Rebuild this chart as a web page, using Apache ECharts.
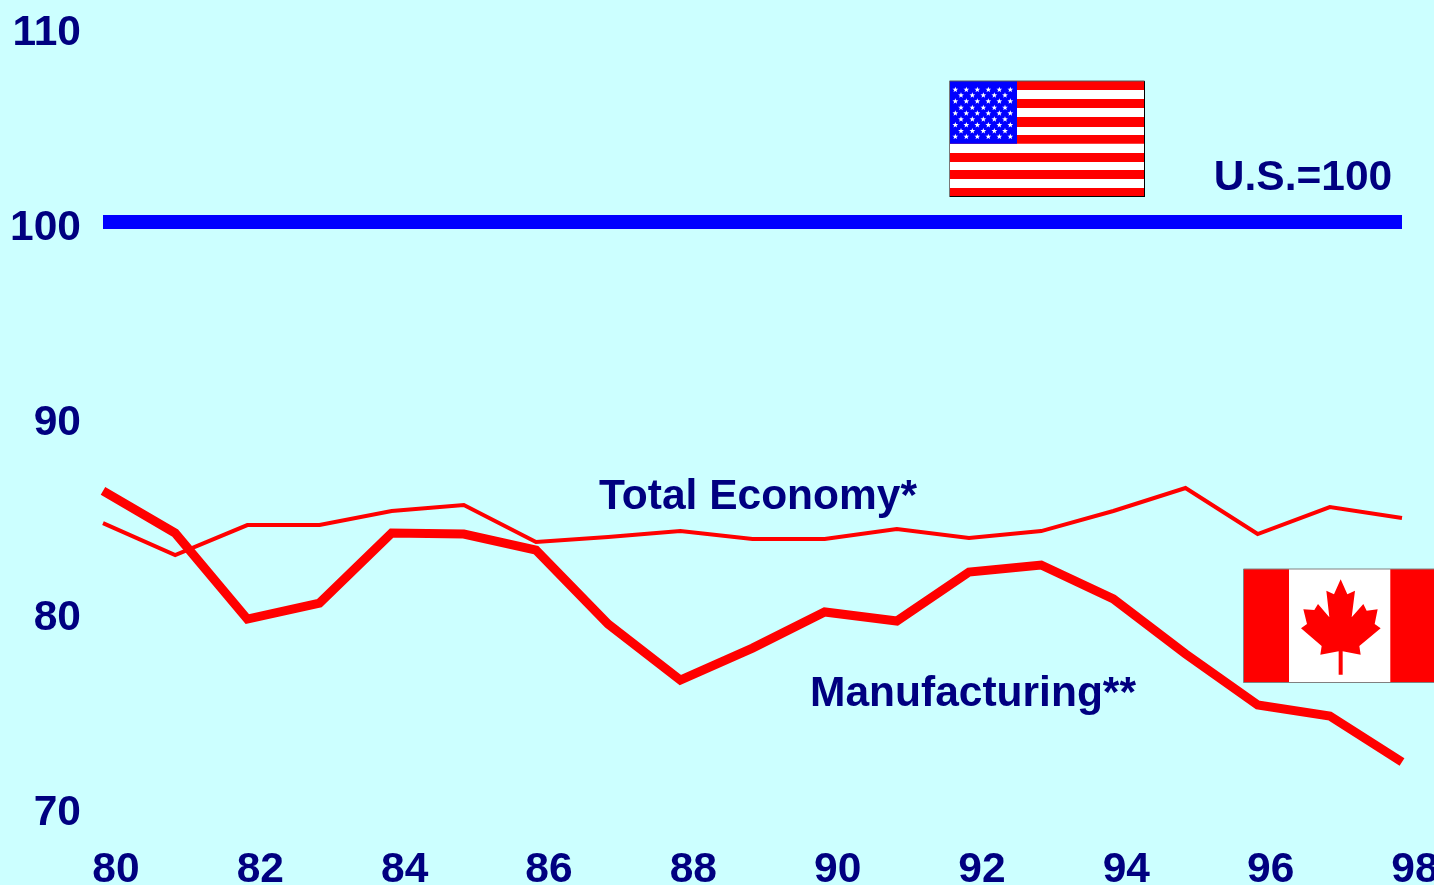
<!DOCTYPE html>
<html>
<head>
<meta charset="utf-8">
<style>html,body{margin:0;padding:0;background:#CCFFFF;overflow:hidden}#c{width:1434px;height:885px}</style>
<script src="https://cdn.jsdelivr.net/npm/echarts@6/dist/echarts.min.js"></script>
</head>
<body>
<div id="c"></div>
<script>
const years = ['80','81','82','83','84','85','86','87','88','89','90','91','92','93','94','95','96','97','98'];
const usBaseline = [100,100,100,100,100,100,100,100,100,100,100,100,100,100,100,100,100,100,100];
const totalEconomy = [84.56,82.92,84.46,84.46,85.18,85.49,83.59,83.85,84.15,83.74,83.74,84.26,83.79,84.15,85.18,86.36,84.0,85.38,84.82];
const manufacturing = [86.21,84.05,79.64,80.46,84.05,84.0,83.18,79.38,76.51,78.15,80.0,79.54,82.05,82.41,80.67,77.85,75.23,74.67,72.31];

const NAVY = '#000080', RED = '#FF0000', BLUE = '#0000FF', WHITE = '#FFFFFF';

// ---- flag decoration ----
function rect(x, y, w, h, fill) {
  return {type:'rect', shape:{x, y, width:w, height:h}, style:{fill}, silent:true, z:10};
}
function line(x1, y1, x2, y2, stroke) {
  return {type:'line', shape:{x1, y1, x2, y2}, style:{stroke, lineWidth:1}, silent:true, z:12};
}
function star(cx, cy, r) {
  const pts = [];
  for (let i = 0; i < 10; i++) {
    const a = -Math.PI/2 + i*Math.PI/5, q = i%2 ? r*0.42 : r;
    pts.push([cx + q*Math.cos(a), cy + q*Math.sin(a)]);
  }
  return {type:'polygon', shape:{points:pts}, style:{fill:WHITE}, silent:true, z:11};
}
function usFlag() {
  const L = 949.5, R = 1144.5, B = [81,90,99,108,117,127,135,143.7,153,162,170,179,188,196.5];
  const out = [rect(L, 81, R-L, 115.5, WHITE)];
  for (let i = 0; i < 13; i += 2) out.push(rect(L, B[i], R-L, B[i+1]-B[i], RED));
  out.push(rect(L, 81, 1017-L, 62.7, BLUE));
  const rows = [59,76,94,113,130,148,165,183,200];
  const six = [76,109,142,175,208,241], five = [93,127,160,193,225];
  rows.forEach((ry, i) => (i%2 ? five : six).forEach(cx => out.push(star(930+cx/3, 70+ry/3, 3))));
  out.push(line(R, 81, R, 197, '#000000'), line(L, 196.5, R, 196.5, '#000000'),
           line(L, 81, R, 81, '#555555'), line(L, 81, L, 197, '#777777'));
  return out;
}
function caFlag() {
  const T = 569, Bt = 682.5, L = 1243.5;
  const leaf = [[332,58],[352,103],[375,92],[365,172],[400,132],[410,152],[443,148],[434,192],[452,205],[388,258],[392,284],[338,274],[338,344],[326,344],[326,274],[271,284],[275,258],[213,205],[231,192],[220,148],[253,150],[264,132],[298,172],[289,92],[312,103]]
    .map(p => [1230+p[0]/3, 560+p[1]/3]);
  return [
    rect(L, T, 1434-L, Bt-T, RED),
    rect(1289, T, 101.3, Bt-T, WHITE),
    {type:'polygon', shape:{points:leaf}, style:{fill:RED}, silent:true, z:11},
    line(L, T, 1434, T, '#808080'), line(L, Bt, 1434, Bt, '#808080'), line(L, T, L, Bt, '#808080')
  ];
}
function note(text, cx, cy, size) {
  return {type:'text', style:{text, x:cx, y:cy, align:'center', verticalAlign:'middle', fill:NAVY,
    font:'bold '+size+'px "Liberation Sans", Arial, sans-serif'}, silent:true, z:15};
}

const chart = echarts.init(document.getElementById('c'), null, {renderer:'canvas'});
chart.setOption({
  animation:false,
  backgroundColor:'#CCFFFF',
  grid:{left:103, right:32, top:27, bottom:78, containLabel:false, outerBoundsMode:'none'},
  xAxis:{
    type:'category', data:years, boundaryGap:false,
    axisLine:{show:false}, axisTick:{show:false}, splitLine:{show:false},
    axisLabel:{interval:1, margin:42, color:NAVY, fontSize:42.5, fontWeight:'bold',
      fontFamily:'"Liberation Sans", Arial, sans-serif', padding:[0,0,0,26],
      hideOverlap:false, showMinLabel:true, showMaxLabel:true}
  },
  yAxis:{
    type:'value', min:70, max:110, interval:10,
    axisLine:{show:false}, axisTick:{show:false}, splitLine:{show:false},
    axisLabel:{margin:22, color:NAVY, fontSize:42.5, fontWeight:'bold',
      fontFamily:'"Liberation Sans", Arial, sans-serif', verticalAlign:'top', lineHeight:12}
  },
  series:[
    {name:'U.S.', type:'line', data:usBaseline, symbol:'none', lineStyle:{color:BLUE, width:14, cap:'butt'}},
    {name:'Total Economy', type:'line', data:totalEconomy, symbol:'none', lineStyle:{color:RED, width:4, cap:'butt', join:'miter'}},
    {name:'Manufacturing', type:'line', data:manufacturing, symbol:'none', lineStyle:{color:RED, width:9, cap:'butt', join:'miter'}}
  ],
  graphic:{elements:[
    ...usFlag(), ...caFlag(),
    note('U.S.=100', 1303, 178, 42.5),
    note('Total Economy*', 758, 497, 42.5),
    note('Manufacturing**', 973, 694, 42.5)
  ]}
});
</script>
</body>
</html>
